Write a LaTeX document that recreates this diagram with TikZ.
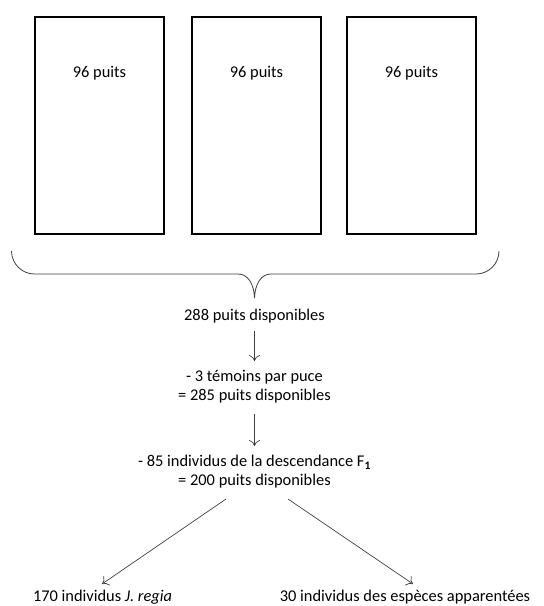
\documentclass[tikz,border=0pt]{standalone}
\usepackage{fontspec}
\setmainfont{Carlito}
\usetikzlibrary{arrows.meta}
\begin{document}
\begin{tikzpicture}[x=1pt,y=-1pt,
  plate/.style={draw=black,line width=2pt,minimum width=129pt,minimum height=217pt,inner sep=0pt},
  txt/.style={font=\fontsize{16.4}{19}\selectfont,inner sep=0pt,align=center,text=black},
  arr/.style={draw=black!75,line width=0.7pt,-{To[length=6pt,width=11pt]}},
  brace/.style={draw=black!75,line width=0.8pt}]
\useasboundingbox (0,0) rectangle (544,606);
\node[plate] (b1) at (99.5,125.5) {};
\node[plate] (b2) at (256.5,125.5) {};
\node[plate] (b3) at (411.5,125.5) {};
\node[txt] (t1) at (99.5,73) {96 puits};
\node[txt] (t2) at (256.5,73) {96 puits};
\node[txt] (t3) at (411.5,73) {96 puits};
\draw[brace] (11.5,251) arc[start angle=180,end angle=90,radius=23] -- (238,274)
  .. controls (248,274) and (254,284) .. (254.5,298)
  .. controls (255,284) and (261,274) .. (271,274) -- (476,274)
  arc[start angle=90,end angle=0,radius=23];
\coordinate (tip) at (254.5,298);
\node[txt] (n1) at (254.5,316) {288 puits disponibles};
\node[txt] (n2) at (254.5,387) {- 3 témoins par puce\\= 285 puits disponibles};
\node[txt] (n3) at (254.5,472) {- 85 individus de la descendance F$_{\mathbf 1}$\\= 200 puits disponibles};
\node[txt] (n4) at (102.5,597) {170 individus \textit{J. regia}};
\node[txt] (n5) at (405,597) {30 individus des espèces\ apparentées};
\coordinate (a1s) at (254.5,331);
\coordinate (a1e) at (254.5,361);
\coordinate (a2s) at (254.5,414);
\coordinate (a2e) at (254.5,446);
\coordinate (a3s) at (226,499);
\coordinate (a3e) at (102,584);
\coordinate (a4s) at (288,499);
\coordinate (a4e) at (413,584);
\draw[arr] (a1s) -- (a1e);
\draw[arr] (a2s) -- (a2e);
\draw[arr] (a3s) -- (a3e);
\draw[arr] (a4s) -- (a4e);
\end{tikzpicture}
\end{document}
